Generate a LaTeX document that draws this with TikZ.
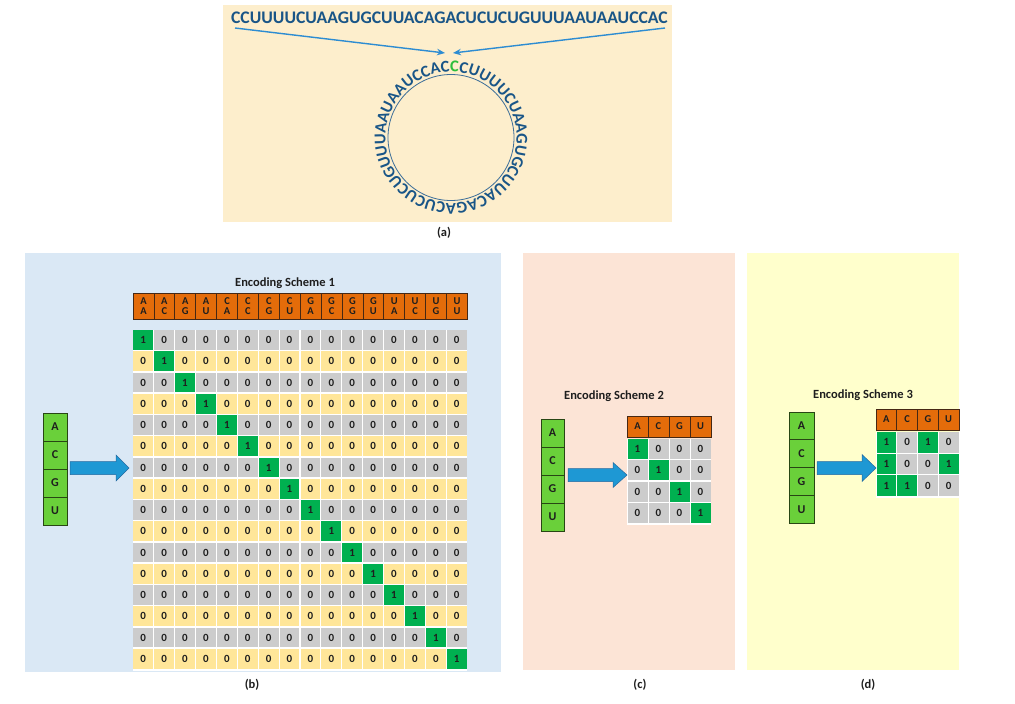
\documentclass[tikz,border=0pt]{standalone}
\usepackage{fontspec}
\setmainfont{Carlito}
\usetikzlibrary{decorations.text,calc,arrows.meta}
\definecolor{bgA}{RGB}{253,238,204}
\definecolor{bgB}{RGB}{218,232,245}
\definecolor{bgC}{RGB}{252,228,214}
\definecolor{bgD}{RGB}{255,255,204}
\definecolor{hdr}{RGB}{228,108,10}
\definecolor{hdrline}{RGB}{70,40,20}
\definecolor{cgray}{RGB}{204,204,204}
\definecolor{cyel}{RGB}{255,230,153}
\definecolor{cgrn}{RGB}{0,176,80}
\definecolor{lgrn}{RGB}{106,208,58}
\definecolor{lgrnline}{RGB}{40,70,20}
\definecolor{arrblue}{RGB}{30,152,212}
\definecolor{arrline}{RGB}{35,105,160}
\definecolor{seqblue}{RGB}{25,85,135}
\definecolor{seqgreen}{RGB}{45,190,60}
\definecolor{thinblue}{RGB}{45,140,210}
\definecolor{digit}{RGB}{30,30,30}
\newcommand\blockarr[5]{%
  \draw[blockarrow] (#1,{-#4+6.5}) -- (#3,{-#4+6.5}) -- (#3,{-#4+#5}) -- (#2,-#4) --
    (#3,{-#4-#5}) -- (#3,{-#4-6.5}) -- (#1,{-#4-6.5}) -- cycle;}
\begin{document}
\begin{tikzpicture}[x=1pt,y=1pt,
  panel/.style={anchor=north west,inner sep=0,draw=none},
  lbl/.style={font=\bfseries\fontsize{12.5}{12.5}\selectfont,text=digit},
  ttl/.style={font=\bfseries\fontsize{12.5}{12.5}\selectfont,text=digit},
  hcell/.style={draw=hdrline,fill=hdr,line width=0.7pt,inner sep=0,align=center,
     font=\bfseries\fontsize{10.5}{9.5}\selectfont,text=digit},
  cell/.style={inner sep=0,font=\bfseries\fontsize{11}{11}\selectfont,text=digit},
  nuc/.style={draw=lgrnline,fill=lgrn,line width=0.8pt,inner sep=0,
     font=\bfseries\fontsize{12}{12}\selectfont,text=digit},
  blockarrow/.style={fill=arrblue,draw=arrline,line width=0.5pt},
  thinarrow/.style={draw=thinblue,line width=1.4pt,-{Stealth[length=8pt,width=6.5pt]}}]
\useasboundingbox (0,0) rectangle (1015,-704);
\fill[white] (0,0) rectangle (1015,-704);
% panels
\node[panel,fill=bgA,minimum width=449pt,minimum height=217pt] (pa) at (223,-5) {};
\node[panel,fill=bgB,minimum width=476pt,minimum height=419pt] (pb) at (25,-253) {};
\node[panel,fill=bgC,minimum width=212pt,minimum height=417pt] (pc) at (523,-253) {};
\node[panel,fill=bgD,minimum width=212pt,minimum height=417pt] (pd) at (747,-253) {};
\node[lbl] (la) at (444,-233) {(a)};
\node[lbl] (lb) at (252,-685) {(b)};
\node[lbl] (lc) at (640,-685) {(c)};
\node[lbl] (ld) at (868,-685) {(d)};
% (a)
\node[font=\bfseries\fontsize{17.7}{17.7}\selectfont,text=seqblue,inner sep=0] (seq) at (449.5,-18)
  {CCUUUUCUAAGUGCUUACAGACUCUCUGUUUAAUAAUCCAC};
\coordinate (stL) at (235,-28);
\coordinate (stR) at (665,-28);
\coordinate (tipL) at (445,-53);
\coordinate (tipR) at (453,-53);
\draw[thinarrow] (stL) -- (tipL);
\draw[thinarrow] (stR) -- (tipR);
\node[circle,draw=seqblue!85,line width=0.8pt,minimum size=126pt,inner sep=0] (ring) at (451,-137.5) {};
\path[decorate,decoration={text along path,text align={fit to path},
  text={|\bfseries\fontsize{16.5}{16.5}\selectfont\color{seqgreen}|C|\bfseries\fontsize{16.5}{16.5}\selectfont\color{seqblue}|CUUUUCUAAGUGCUUACAGACUCUCUGUUUAAUAAUCCAC}}]
  (ring.center) ++(91:65.5) arc[start angle=91,end angle=-269,radius=65.5];
% (b) Encoding scheme 1
\node[ttl] (t1) at (285,-283) {Encoding Scheme 1};
\fill[white] (132.5,-329.5) rectangle (467,-670.5);
\foreach \a/\b [count=\j from 0] in {A/A,A/C,A/G,A/U,C/A,C/C,C/G,C/U,G/A,G/C,G/G,G/U,U/A,U/C,U/G,U/U}{
  \node[hcell,minimum width=20.9pt,minimum height=26pt] (h1-\j) at ({143.45+20.9*\j},-306) {\a\\\b};
}
\foreach \i in {0,...,15}{
  \foreach \j in {0,...,15}{
    \pgfmathtruncatemacro\rowpar{mod(\i,2)}
    \ifnum\i=\j \def\cf{cgrn}\def\tx{1}\else
      \ifnum\rowpar=0 \def\cf{cgray}\else\def\cf{cyel}\fi\def\tx{0}\fi
    \node[cell,fill=\cf,minimum width=19.8pt,minimum height=19.9pt] (m1-\i-\j)
      at ({143.2+20.9*\j},{-(340+21.25*\i)}) {\tx};
  }
}
\foreach \n [count=\k from 0] in {A,C,G,U}{
  \node[nuc,minimum width=24pt,minimum height=28pt] (s1-\n) at (55,{-(427+28*\k)}) {\n};
}
\blockarr{70}{129}{116}{468}{13}
% (c) Encoding scheme 2
\node[ttl] (t2) at (614,-396) {Encoding Scheme 2};
\fill[white] (627,-438.5) rectangle (711,-524.5);
\foreach \n [count=\j from 0] in {A,C,G,U}{
  \node[hcell,minimum width=21pt,minimum height=21pt] (h2-\j) at ({637.5+21*\j},-426.5) {\n};
}
\foreach \i in {0,...,3}{
  \foreach \j in {0,...,3}{
    \ifnum\i=\j \def\cf{cgrn}\def\tx{1}\else\def\cf{cgray}\def\tx{0}\fi
    \node[cell,fill=\cf,minimum width=20pt,minimum height=20pt] (m2-\i-\j)
      at ({637.5+21*\j},{-(449+21.3*\i)}) {\tx};
  }
}
\foreach \n [count=\k from 0] in {A,C,G,U}{
  \node[nuc,minimum width=23pt,minimum height=28pt] (s2-\n) at (552.5,{-(433+28*\k)}) {\n};
}
\blockarr{568}{627}{613}{475}{12.5}
% (d) Encoding scheme 3
\node[ttl] (t3) at (863,-395) {Encoding Scheme 3};
\fill[white] (876,-431.5) rectangle (959,-497.5);
\foreach \n [count=\j from 0] in {A,C,G,U}{
  \node[hcell,minimum width=20.75pt,minimum height=21pt] (h3-\j) at ({886.4+20.75*\j},-419.5) {\n};
}
\foreach \i/\vals in {0/{1,0,1,0},1/{1,0,0,1},2/{1,1,0,0}}{
  \foreach \v [count=\j from 0] in \vals {
    \ifnum\v=1 \def\cf{cgrn}\else\def\cf{cgray}\fi
    \node[cell,fill=\cf,minimum width=19.8pt,minimum height=20.5pt] (m3-\i-\j)
      at ({886.4+20.75*\j},{-(442.3+21.7*\i)}) {\v};
  }
}
\foreach \n [count=\k from 0] in {A,C,G,U}{
  \node[nuc,minimum width=25pt,minimum height=27.75pt] (s3-\n) at (801.5,{-(425.9+27.75*\k)}) {\n};
}
\blockarr{817}{876}{862}{468}{13.5}
\end{tikzpicture}
\end{document}
